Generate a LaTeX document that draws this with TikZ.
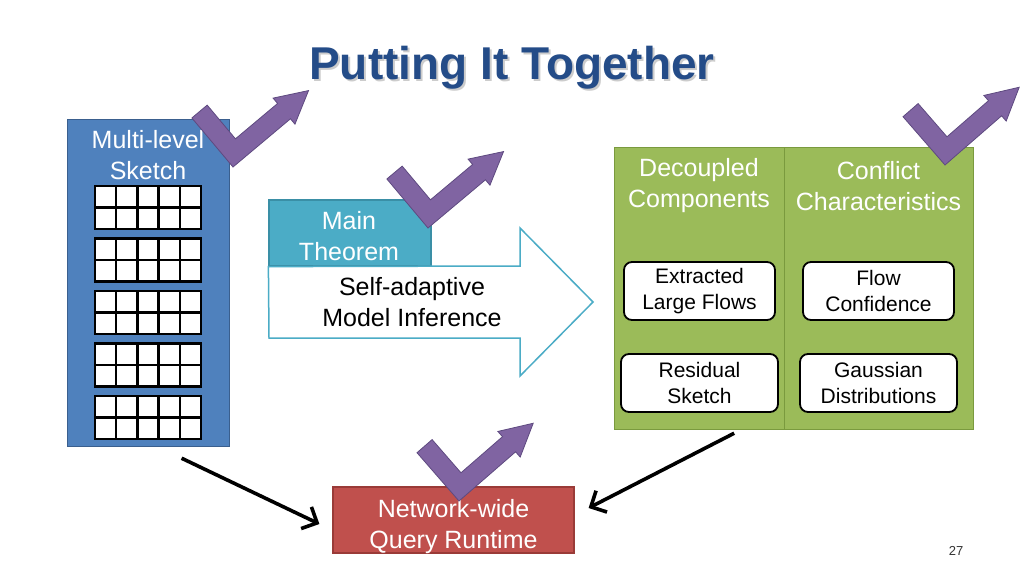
\documentclass[tikz,border=0pt]{standalone}
\usepackage{fontspec}
\setmainfont{Liberation Sans}
\usetikzlibrary{arrows.meta, positioning, calc}
\definecolor{sketchblue}{HTML}{4F81BD}
\definecolor{sketchedge}{HTML}{3A5F8E}
\definecolor{theoremteal}{HTML}{4BACC6}
\definecolor{theoremedge}{HTML}{3A8FA6}
\definecolor{compgreen}{HTML}{9BBB59}
\definecolor{compedge}{HTML}{7A9A3E}
\definecolor{queryred}{HTML}{C0504D}
\definecolor{queryedge}{HTML}{9A3B38}
\definecolor{tickpurple}{HTML}{8064A2}
\definecolor{tickedge}{HTML}{5E4A80}
\definecolor{titleblue}{RGB}{36,76,136}
\tikzset{
    panel/.style={rectangle, draw, line width=1.2pt, inner sep=0pt},
    headtxt/.style={text=white, align=center, font=\fontsize{25}{31}\selectfont},
    bodytxt/.style={text=black, align=center, font=\fontsize{25}{31}\selectfont},
    smallbox/.style={rectangle, draw, line width=1.8pt, fill=white, rounded corners=8pt, align=center, inner sep=0pt, minimum height=58pt, font=\fontsize{21}{25.5}\selectfont},
    titletxt/.style={font=\fontsize{46}{50}\selectfont\bfseries},
    cellline/.style={line width=2.4pt},
    bigarrow/.style={-{Straight Barb[length=12pt, width=24pt]}, line width=3.6pt},
    tick/.pic={
        \begin{scope}[x=1pt, y=1pt]
            \filldraw[fill=tickpurple, draw=tickedge, line width=0.8pt] (0,0) -- (75,0) -- (75,-7) -- (107,10) -- (75,27) -- (75,20) -- (20,20) -- (20,64) -- (0,64) -- cycle;
        \end{scope}
    },
}
\begin{document}
\begin{tikzpicture}[x=1pt, y=-1pt]
    \fill[white] (0,0) rectangle (1024,576);
    \useasboundingbox (0,0) rectangle (1024,576);

    \node[titletxt, text=gray!40] (titleshadow) at (514,70) {Putting It Together};
    \node[titletxt, text=titleblue] (title) at (512,68) {Putting It Together};

    % sketch column
    \node[panel, fill=sketchblue, draw=sketchedge, minimum width=162pt, minimum height=327pt, anchor=north west] (sketch) at (67,119) {};
    \node[headtxt] (sketchtxt) at (148,155) {Multi-level\\Sketch};
    \foreach \top in {186,238.5,291,343.5,396} {
        \draw[cellline, fill=white] (95,\top) rectangle (201,\top+43);
        \foreach \i in {1,...,4}
            \draw[cellline] (95+21.2*\i,\top) -- (95+21.2*\i,\top+43);
        \draw[cellline] (95,\top+21.5) -- (201,\top+21.5);
    }

    % main theorem
    \node[panel, fill=theoremteal, draw=theoremedge, minimum width=162pt, minimum height=66pt] (theorem) at (350,233) {};
    \node[headtxt] (theoremtxt) at (349,236) {Main\\Theorem};
    \draw[draw=theoremteal, line width=1.5pt, fill=white] (theorem.south west) -- (520,266) -- (520,228) -- (593,302) -- (520,376) -- (520,338) -- (269,338) -- cycle;
    \node[bodytxt] (inference) at (412,302) {Self-adaptive\\Model Inference};

    % components
    \node[panel, fill=compgreen, draw=compedge, minimum width=170pt, minimum height=282pt, anchor=north west] (decoupled) at (614,147) {};
    \node[panel, fill=compgreen, draw=compedge, minimum width=189pt, minimum height=282pt, anchor=north west] (conflict) at (784,147) {};
    \node[headtxt] (decoupledtxt) at (699,186) {Decoupled\\Components};
    \node[headtxt] (conflicttxt) at (878.5,186) {Conflict\\Characteristics};
    \node[smallbox, minimum width=151pt] (extracted) at (699.5,291) {Extracted\\Large Flows};
    \node[smallbox, minimum width=151pt] (flowconf) at (878.5,291) {Flow\\Confidence};
    \node[smallbox, minimum width=157pt] (residual) at (699.5,383) {Residual\\Sketch};
    \node[smallbox, minimum width=157pt] (gaussian) at (878.5,383) {Gaussian\\Distributions};

    \node[panel, fill=queryred, draw=queryedge, minimum width=241pt, minimum height=66pt] (query) at (453.5,520) {};
    \node[headtxt] (querytxt) at (453.5,527) {Network-wide\\Query Runtime};

    \draw[bigarrow] ($(sketch.south)+(33,11)$) -- ($(query.west)+(-13,4)$);
    \draw[bigarrow] ($(decoupled.south east)+(-51,3)$) -- ($(query.east)+(14,-12)$);

    \node[font=\fontsize{13}{15}\selectfont, text=black!80] (pagenum) at (956,551) {27};

    \pic[rotate=40] at (233,167) {tick};
    \pic[rotate=40] at (428,228) {tick};
    \pic[rotate=41] at (945,165) {tick};
    \pic[rotate=41] at (459,501) {tick};
\end{tikzpicture}
\end{document}
